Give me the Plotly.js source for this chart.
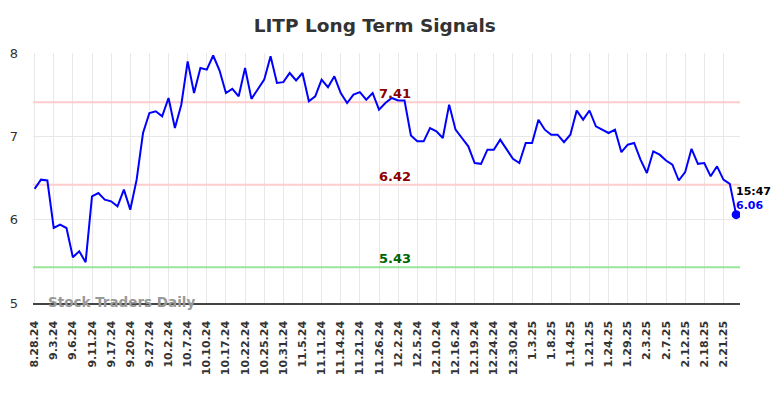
<!DOCTYPE html>
<html>
<head>
<meta charset="utf-8">
<script src="https://cdn.plot.ly/plotly-3.0.1.min.js"></script>
<style>html,body{margin:0;padding:0;background:#fff;}#chart{width:784px;height:398px;}</style>
</head>
<body>
<div id="chart"></div>
<script>
var tickLabels = ["8.28.24","9.3.24","9.6.24","9.11.24","9.17.24","9.20.24","9.27.24","10.2.24","10.7.24","10.10.24","10.17.24","10.22.24","10.25.24","10.31.24","11.5.24","11.11.24","11.14.24","11.21.24","11.26.24","12.2.24","12.5.24","12.10.24","12.16.24","12.19.24","12.24.24","12.30.24","1.3.25","1.8.25","1.14.25","1.21.25","1.24.25","1.29.25","2.3.25","2.7.25","2.12.25","2.18.25","2.21.25"];
var prices = [6.37,6.48,6.47,5.90,5.94,5.90,5.55,5.62,5.49,6.28,
6.32,6.24,6.22,6.16,6.36,6.12,6.48,7.04,7.28,7.30,
7.24,7.46,7.10,7.38,7.90,7.52,7.82,7.80,7.97,7.79,
7.52,7.57,7.48,7.82,7.45,7.56,7.68,7.96,7.64,7.65,
7.76,7.67,7.76,7.42,7.48,7.68,7.59,7.72,7.52,7.40,
7.50,7.53,7.44,7.52,7.32,7.40,7.46,7.43,7.43,7.01,
6.94,6.94,7.10,7.06,6.98,7.38,7.08,6.98,6.88,6.68,
6.67,6.84,6.84,6.96,6.84,6.73,6.68,6.92,6.92,7.20,
7.08,7.02,7.02,6.93,7.02,7.31,7.20,7.31,7.12,7.08,
7.04,7.08,6.81,6.90,6.92,6.72,6.56,6.82,6.78,6.71,
6.66,6.47,6.57,6.85,6.67,6.68,6.52,6.64,6.48,6.43,
6.06];
var signalLevels = [7.41, 6.42, 5.43];
var signalLabels = ["7.41", "6.42", "5.43"];
var lastTime = "15:47";
var tickEvery = 3;

var xs = prices.map(function(_, i){ return i; });
var tickvals = tickLabels.map(function(_, i){ return i * tickEvery; });
var n = prices.length;

var levelColors = ["#ffcccc", "#ffcccc", "#99e699"];
var labelColors = ["#8b0000", "#8b0000", "#006400"];

var traces = [];
signalLevels.forEach(function(v, k){
  traces.push({x:[-1, n+1], y:[v, v], mode:'lines', line:{color:levelColors[k], width:2}, hoverinfo:'skip', showlegend:false});
});
traces.push({x: xs, y: prices, mode:'lines', line:{color:'#0000ff', width:2}, showlegend:false});
traces.push({x:[n-1], y:[prices[n-1]], mode:'markers', marker:{color:'#0000ff', size:9}, showlegend:false});

var annotations = [];
signalLevels.forEach(function(v, k){
  annotations.push({x: 56.5, y: v, xref:'x', yref:'y', text: '<b>'+signalLabels[k]+'</b>', showarrow:false,
    yanchor:'bottom', xanchor:'center', yshift:-1, font:{family:'DejaVu Sans', size:13, color:labelColors[k]}});
});
annotations.push({x: n-1, y: prices[n-1], xref:'x', yref:'y', text:'<b>'+lastTime+'</b>', showarrow:false,
  xanchor:'left', yanchor:'middle', xshift:-2, yshift:23, font:{family:'DejaVu Sans', size:11, color:'#000'}});
annotations.push({x: n-1, y: prices[n-1], xref:'x', yref:'y', text:'<b>'+prices[n-1].toFixed(2)+'</b>', showarrow:false,
  xanchor:'left', yanchor:'middle', xshift:-2, yshift:9, font:{family:'DejaVu Sans', size:11, color:'#0000ff'}});
annotations.push({x: 0.018, y: 0, xref:'paper', yref:'paper', text:'<b>Stock Traders Daily</b>', showarrow:false,
  xanchor:'left', yanchor:'middle', yshift:1, font:{family:'DejaVu Sans', size:13.5, color:'#999'}});

var layout = {
  width: 784, height: 398,
  margin: {l:33, r:44, t:53, b:95, pad:0},
  paper_bgcolor:'#fff', plot_bgcolor:'#fff',
  font: {family:'DejaVu Sans', color:'#333'},
  title: {text:'<b>LITP Long Term Signals</b>', x:0.478, xanchor:'center', y:0.935, yanchor:'middle',
    font:{family:'DejaVu Sans', size:18.5, color:'#333'}},
  xaxis: {range:[-0.25, 110.6], tickmode:'array', tickvals: tickvals, ticktext: tickLabels, tickangle:-90,
    tickfont:{family:'DejaVu Sans', size:11, color:'#333', weight:'bold'},
    showgrid:true, gridcolor:'#e8e8e8', gridwidth:1, zeroline:false,
    showline:true, linecolor:'#444', linewidth:1.5, ticks:'', ticklen:0, ticklabelstandoff:12},
  yaxis: {range:[5, 8], tickvals:[5,6,7,8], ticktext:['5','6','7','8'],
    tickfont:{family:'DejaVu Sans', size:13, color:'#333'},
    showgrid:true, gridcolor:'#e8e8e8', gridwidth:1, zeroline:false, showline:false, ticks:'', ticklabelstandoff:14},
  annotations: annotations,
  showlegend:false
};

Plotly.newPlot('chart', traces, layout, {displayModeBar:false, staticPlot:true});
</script>
</body>
</html>
